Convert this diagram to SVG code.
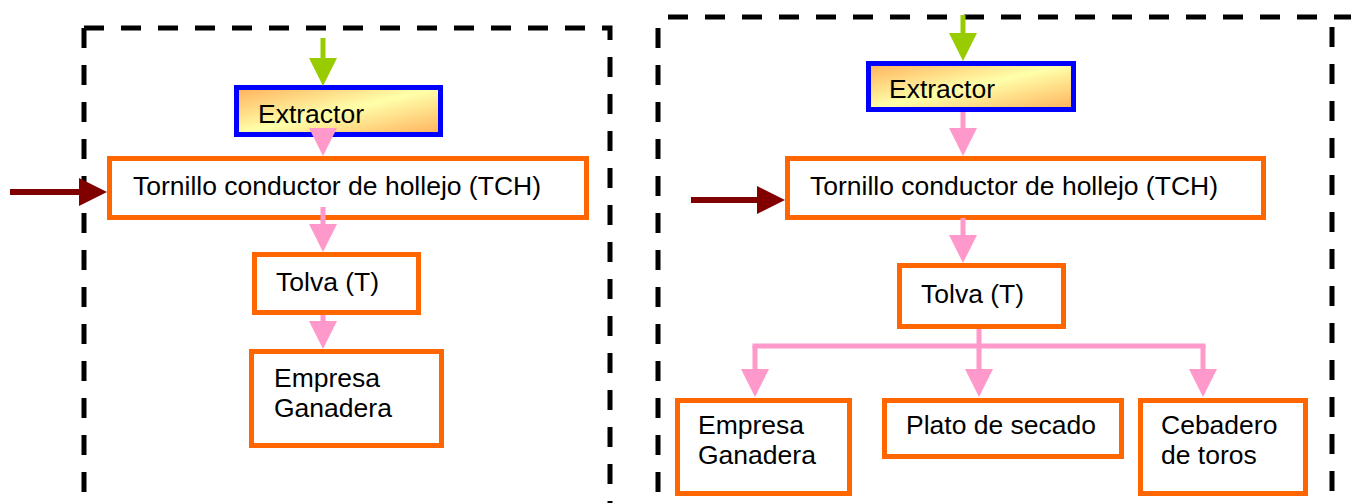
<svg xmlns="http://www.w3.org/2000/svg" width="1351" height="503" viewBox="0 0 1351 503">
<style>
.frame{fill:none;stroke:#000;stroke-width:5;stroke-dasharray:20 17}
.ext{fill:url(#grad);stroke:#0000FF;stroke-width:5}
.box{fill:#fff;stroke:#FF6600;stroke-width:5}
.t{font-family:"Liberation Sans",Arial,sans-serif;font-size:26.5px;fill:#000}
.pink{stroke:#FF99CC;stroke-width:5;fill:none}
.green{stroke:#99CC00;stroke-width:5;fill:none}
.maroon{stroke:#800000;stroke-width:6;fill:none}
</style>
<defs>
<linearGradient id="grad" x1="0" y1="0" x2="1" y2="1">
<stop offset="0" stop-color="#FFB05A"/>
<stop offset="0.5" stop-color="#FFFFAA"/>
<stop offset="1" stop-color="#FFB05A"/>
</linearGradient>
<marker id="mp" viewBox="0 0 28 28" refX="1" refY="14" markerWidth="28" markerHeight="28" markerUnits="userSpaceOnUse" orient="auto"><path d="M0,0 L28,14 L0,28 Z" fill="#FF99CC"/></marker>
<marker id="mg" viewBox="0 0 28 28" refX="1" refY="14" markerWidth="28" markerHeight="28" markerUnits="userSpaceOnUse" orient="auto"><path d="M0,0 L28,14 L0,28 Z" fill="#99CC00"/></marker>
<marker id="mm" viewBox="0 0 28 28" refX="1" refY="14" markerWidth="28" markerHeight="28" markerUnits="userSpaceOnUse" orient="auto"><path d="M0,0 L28,14 L0,28 Z" fill="#800000"/></marker>
</defs>

<g id="frames">
<path class="frame" d="M84,28 L84,503"/>
<path class="frame" d="M84,28 L610,28 L610,503"/>
<path class="frame" d="M658,28 L658,503"/>
<path class="frame" d="M668,17 L1351,17"/>
<path class="frame" d="M1332,27 L1332,503"/>
</g>

<g id="left-extractor"><rect class="ext" x="236.5" y="87.5" width="204" height="47"/><text class="t" x="258" y="123">Extractor</text></g>
<g id="left-tch"><rect class="box" x="109.5" y="158.5" width="477" height="59"/><text class="t" x="133" y="195">Tornillo conductor de hollejo (TCH)</text></g>
<g id="left-tolva"><rect class="box" x="254.5" y="254.5" width="164" height="58"/><text class="t" x="276" y="291">Tolva (T)</text></g>
<g id="left-empresa"><rect class="box" x="251.5" y="351.5" width="190" height="94"/><text class="t" x="274" y="387">Empresa</text><text class="t" x="274" y="417">Ganadera</text></g>

<g id="right-extractor"><rect class="ext" x="868.5" y="63.5" width="205" height="46"/><text class="t" x="889" y="98">Extractor</text></g>
<g id="right-tch"><rect class="box" x="787.5" y="158.5" width="476" height="59"/><text class="t" x="810" y="195">Tornillo conductor de hollejo (TCH)</text></g>
<g id="right-tolva"><rect class="box" x="899.5" y="265.5" width="164" height="61"/><text class="t" x="921" y="303">Tolva (T)</text></g>
<g id="right-empresa"><rect class="box" x="677.5" y="400.5" width="172" height="93"/><text class="t" x="698" y="434">Empresa</text><text class="t" x="698" y="464">Ganadera</text></g>
<g id="right-plato"><rect class="box" x="884.5" y="400.5" width="237" height="56"/><text class="t" x="906" y="434">Plato de secado</text></g>
<g id="right-cebadero"><rect class="box" x="1140.5" y="400.5" width="165" height="93"/><text class="t" x="1161" y="434">Cebadero</text><text class="t" x="1161" y="464">de toros</text></g>

<g id="connectors">
<path class="green" d="M323,38 L323,59" marker-end="url(#mg)"/>
<path class="pink" d="M323,128 L323,129" marker-end="url(#mp)"/>
<path class="pink" d="M323,207 L323,225" marker-end="url(#mp)"/>
<path class="pink" d="M323,315 L323,322" marker-end="url(#mp)"/>
<path class="maroon" d="M10,192 L80,192" marker-end="url(#mm)"/>

<path class="green" d="M963,15 L963,34" marker-end="url(#mg)"/>
<path class="pink" d="M963,112 L963,129" marker-end="url(#mp)"/>
<path class="pink" d="M963,218 L963,236" marker-end="url(#mp)"/>
<path class="maroon" d="M691,200 L758,200" marker-end="url(#mm)"/>
<path class="pink" d="M979,329 L979,370" marker-end="url(#mp)"/>
<path class="pink" d="M755,346 L1203,346" stroke-linecap="square"/>
<path class="pink" d="M755,346 L755,370" marker-end="url(#mp)"/>
<path class="pink" d="M1203,346 L1203,370" marker-end="url(#mp)"/>
</g>
</svg>
